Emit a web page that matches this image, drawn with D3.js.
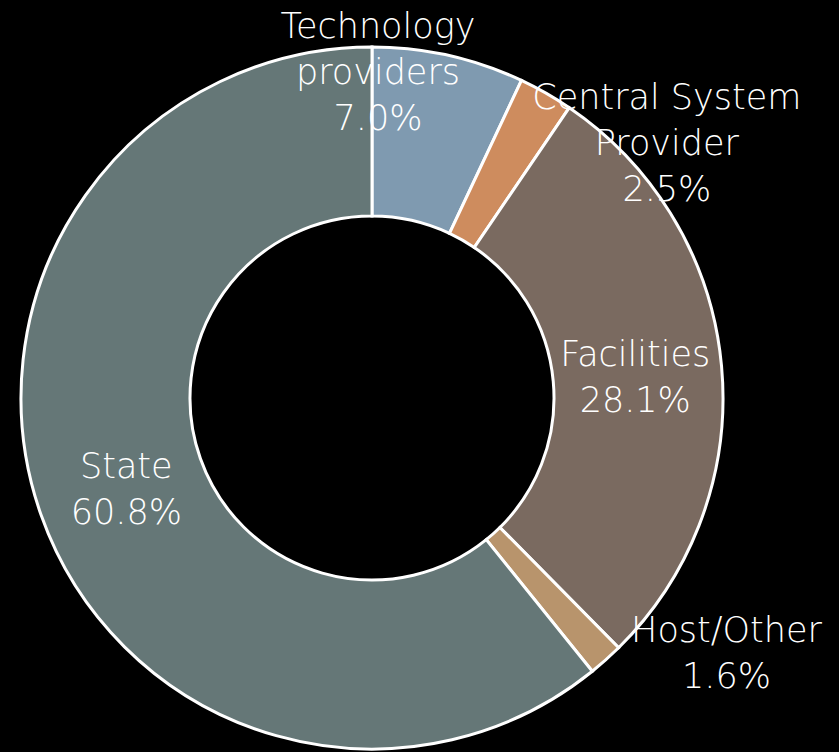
<!DOCTYPE html>
<html><head><meta charset="utf-8">
<script src="https://cdn.jsdelivr.net/npm/d3@7"></script>
<style>html,body{margin:0;padding:0;background:#000;}svg{display:block;}</style>
</head><body>
<svg id="chart" width="839" height="752"></svg>
<script>
const categories = ["Technology providers", "Central System Provider", "Facilities", "Host/Other", "State"];
const values = [7.0, 2.5, 28.1, 1.6, 60.8];
const labelLines = [["Technology", "providers"], ["Central System", "Provider"], ["Facilities"], ["Host/Other"], ["State"]];
const colors = ["#7f9ab0", "#ce8c5e", "#7a6a60", "#b8946c", "#657777"];
// label block centres relative to the pie centre, as fractions of the outer radius
const labelOffsets = [[0.017, -0.93], [0.84, -0.728], [0.75, -0.062], [1.01, 0.727], [-0.70, 0.258]];

const W = 839, H = 752;
const cx = 372, cy = 398, R = 351, r0 = 182;
const svg = d3.select("#chart");
svg.append("rect").attr("width", W).attr("height", H).attr("fill", "#000");
const g = svg.append("g").attr("transform", `translate(${cx},${cy})`);

const pie = d3.pie().sort(null).value(d => d)(values);
const arc = d3.arc().innerRadius(r0).outerRadius(R);
const color = d3.scaleOrdinal().domain(categories).range(colors);

g.selectAll("path.slice").data(pie).join("path")
  .attr("class", "slice")
  .attr("d", arc)
  .attr("fill", (d, i) => color(categories[i]))
  .attr("stroke", "#fff")
  .attr("stroke-width", 3)
  .attr("stroke-linejoin", "miter");

const fmt = d3.format(".1f");
const lineH = 46;
const labels = g.selectAll("text.lbl").data(pie).join("text")
  .attr("class", "lbl")
  .attr("font-family", "'DejaVu Sans', sans-serif")
  .attr("font-weight", 300)
  .attr("font-size", 35)
  .attr("fill", "#fff")
  .attr("text-anchor", "middle");
labels.each(function(d, i) {
  const lines = labelLines[i].concat([fmt(values[i]) + "%"]);
  const x = labelOffsets[i][0] * R, y = labelOffsets[i][1] * R;
  const n = lines.length;
  const t = d3.select(this);
  lines.forEach((s, k) => {
    t.append("tspan").attr("x", x)
      .attr("y", y + (k - (n - 1) / 2) * lineH)
      .attr("dy", "0.35em")
      .text(s);
  });
});
</script>
</body></html>
